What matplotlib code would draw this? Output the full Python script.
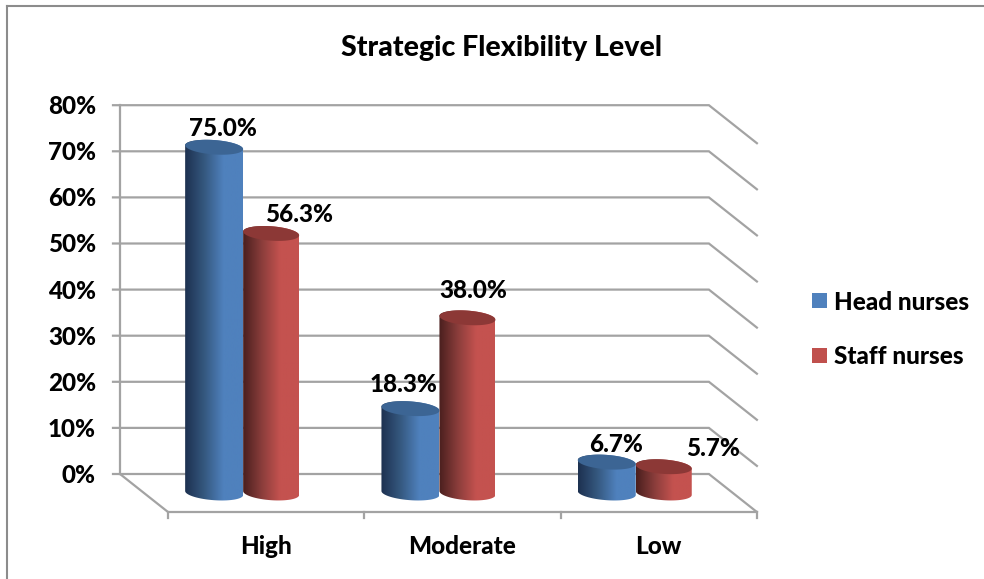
import numpy as np
import matplotlib
matplotlib.use("Agg")
import matplotlib.pyplot as plt
from matplotlib.colors import LinearSegmentedColormap
from matplotlib.patches import Polygon, Rectangle

categories = ["High", "Moderate", "Low"]
head_nurses = [75.0, 18.3, 6.7]
staff_nurses = [56.3, 38.0, 5.7]
yticks = [0, 10, 20, 30, 40, 50, 60, 70, 80]

W, H = 984, 579
PX_X = 196.3   # pixels per category
PX_Y = 4.61    # pixels per percent
x0_px, y0_px = 266.15, 474
depth_x = 48 / PX_X
depth_y = 38 / PX_Y
grid = "#a3a3a3"

plt.rcParams["font.family"] = ["Lato", "DejaVu Sans"]
plt.rcParams["font.weight"] = 900

fig = plt.figure(figsize=(W / 100, H / 100), dpi=100)
ax = fig.add_axes([0, 0, 1, 1])
ax.set_xlim(-x0_px / PX_X, (W - x0_px) / PX_X)
ax.set_ylim(-(H - y0_px) / PX_Y, y0_px / PX_Y)
ax.axis("off")

# picture frame
ax.plot([(7.5 - x0_px) / PX_X, (7.5 - x0_px) / PX_X], [-(H - y0_px) / PX_Y, (y0_px - 6) / PX_Y], color="#8c8c8c", lw=1.5)
ax.plot([(7.5 - x0_px) / PX_X, (W - x0_px) / PX_X], [(y0_px - 6) / PX_Y, (y0_px - 6) / PX_Y], color="#8c8c8c", lw=1.5)

# walls, floor
left = -0.5
right = 2.5
back_l = left - depth_x
back_r = right - depth_x
for t in yticks:
    ax.plot([back_l - 7 / PX_X, back_r, right], [t, t, t - depth_y], color=grid, lw=1.6, zorder=1, solid_joinstyle="miter")
    ax.text(back_l - 24 / PX_X, t - 1.5 / PX_Y, f"{t}%", ha="right", va="center", fontsize=17.5, color="black")
ax.plot([back_l, back_l], [0, 80], color=grid, lw=1.6, zorder=1)
ax.plot([back_l, left, right], [0, -depth_y, -depth_y], color=grid, lw=1.6, zorder=1)
for i in range(4):
    ax.plot([left + i, left + i], [-depth_y, -depth_y - 6 / PX_Y], color=grid, lw=1.6, zorder=1)
for i, c in enumerate(categories):
    ax.text(i, -(546 - y0_px) / PX_Y, c, ha="center", va="center", fontsize=17.5, color="black")

blue_cm = LinearSegmentedColormap.from_list("b", ["#1d3150", "#35587f", "#4f81bd", "#4f81bd"], N=128)
red_cm = LinearSegmentedColormap.from_list("r", ["#4a1f1e", "#8a3d3b", "#c4524f", "#c4524f"], N=128)
base = -19 / PX_Y
ell_h = 7.2 / PX_Y
tilt = (4 / 58) * (PX_X / PX_Y)   # ellipses lean down to the right


def cylinder(cx, width, value, cmap, top_color, z):
    half = width / 2
    t = np.linspace(0, np.pi, 60)
    top = base + value
    cap_x = cx - half * np.cos(t)
    low_x = cx + half * np.cos(t)
    xs = np.r_[cap_x, low_x]
    ys = np.r_[top + ell_h * np.sin(t) - tilt * (cap_x - cx), base - ell_h * np.sin(t) - tilt * (low_x - cx)]
    body = Polygon(np.c_[xs, ys], closed=True, transform=ax.transData, facecolor="none", edgecolor="none")
    ax.add_patch(body)
    grad = np.linspace(0, 1, 128).reshape(1, -1)
    im = ax.imshow(grad, cmap=cmap, extent=[cx - half, cx + half, base - 2 * ell_h, top + 2 * ell_h], aspect="auto", zorder=z)
    im.set_clip_path(body)
    tt = np.linspace(0, 2 * np.pi, 80)
    ell_x = cx + half * np.cos(tt)
    ax.fill(ell_x, top + ell_h * np.sin(tt) - tilt * (ell_x - cx), color=top_color, zorder=z + 0.1, lw=0)


blue_w = 58 / PX_X
red_w = 56 / PX_X
blue_off = (214 - 266) / PX_X
red_off = (271 - 266) / PX_X
for i in range(3):
    cylinder(i + red_off, red_w, staff_nurses[i], red_cm, "#8c3836", 3)
    cylinder(i + blue_off, blue_w, head_nurses[i], blue_cm, "#3c6594", 4)
ax.set_xlim(-x0_px / PX_X, (W - x0_px) / PX_X)
ax.set_ylim(-(H - y0_px) / PX_Y, y0_px / PX_Y)

# value labels sit by hand where the chart put them
head_lab = [(223, 128), (404, 384), (616, 444)]
staff_lab = [(299, 214), (473, 291), (713, 448)]
for vals, labs in [(head_nurses, head_lab), (staff_nurses, staff_lab)]:
    for v, (px, py) in zip(vals, labs):
        ax.text((px - x0_px) / PX_X, (y0_px - py) / PX_Y, f"{v:.1f}%", ha="center", va="center", fontsize=17.5, color="black", zorder=6)

ax.text((502 - x0_px) / PX_X, (y0_px - 48) / PX_Y, "Strategic Flexibility Level", ha="center", va="center", fontsize=20.5, color="black")

# legend
for name, col, py in [("Head nurses", "#4f81bd", 301), ("Staff nurses", "#c0504d", 356)]:
    ax.add_patch(Rectangle(((812 - x0_px) / PX_X, (y0_px - py - 7) / PX_Y), 15 / PX_X, 15 / PX_Y, facecolor=col, edgecolor="none"))
    ax.text((834 - x0_px) / PX_X, (y0_px - py - 1) / PX_Y, name, ha="left", va="center", fontsize=17.5, color="black")

fig.savefig("out.png", dpi=100)
